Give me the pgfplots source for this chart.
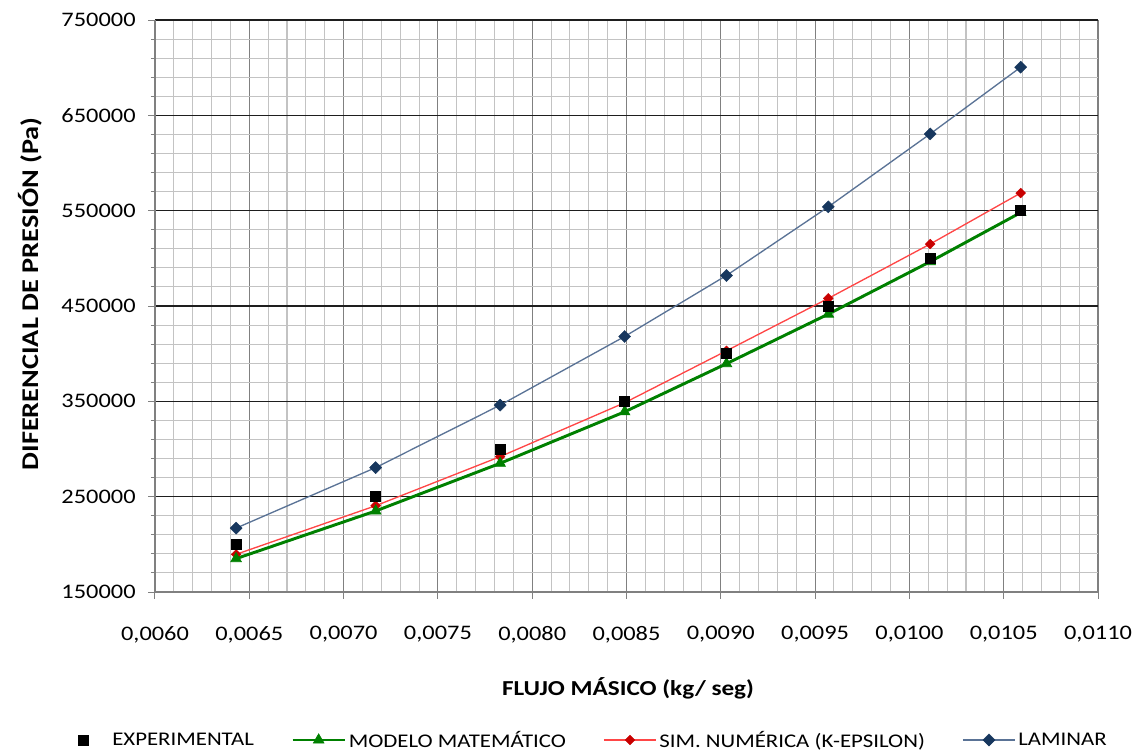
\documentclass[border=0pt]{standalone}
\usepackage{fontspec}
\setmainfont{Carlito}[FakeStretch=1.18]
\usepackage{pgfplots}
\pgfplotsset{compat=1.18}
\definecolor{majx}{RGB}{128,128,128}
\definecolor{majy}{RGB}{30,30,30}
\definecolor{mingrid}{RGB}{195,195,195}
\definecolor{modgreen}{RGB}{0,128,0}
\definecolor{simline}{RGB}{255,70,70}
\definecolor{simmark}{RGB}{200,0,0}
\definecolor{lamline}{RGB}{90,115,150}
\definecolor{lammark}{RGB}{23,55,94}
\begin{document}
\begin{tikzpicture}
\begin{axis}[
  scale only axis, width=707.25pt, height=429pt,
  xmin=0.006, xmax=0.011, ymin=150000, ymax=750000,
  xtick={0.006,0.0065,0.007,0.0075,0.008,0.0085,0.009,0.0095,0.01,0.0105,0.011},
  ytick={150000,250000,350000,450000,550000,650000,750000},
  minor x tick num=4, minor y tick num=4,
  grid=both,
  major x grid style={majx, line width=0.8pt},
  major y grid style={majy, line width=0.8pt},
  minor grid style={mingrid, line width=0.8pt},
  axis x line*=bottom, axis y line*=left,
  axis line style={majx, line width=0.8pt},
  tick align=outside,
  major tick length=5pt, minor tick length=3pt,
  tick style={majx, line width=0.75pt},
  minor x tick style={draw=none},
  scaled x ticks=false, scaled y ticks=false,
  /pgf/number format/assume math mode=true,
  x tick label style={/pgf/number format/fixed, /pgf/number format/fixed zerofill,
     /pgf/number format/precision=4, /pgf/number format/use comma,
     font=\fontsize{15.5}{18}\selectfont, anchor=north, yshift=-17pt},
  y tick label style={/pgf/number format/fixed, /pgf/number format/1000 sep={},
     font=\fontsize{15.5}{18}\selectfont, anchor=east, xshift=-6pt},
  xlabel={FLUJO MÁSICO (kg/ seg)},
  ylabel={DIFERENCIAL DE PRESIÓN (Pa)},
  xlabel style={at={(axis description cs:0.5016,-0.1678)}, anchor=center, font=\bfseries\fontsize{16}{19}\selectfont},
  ylabel style={at={(axis description cs:-0.1326,0.521)}, anchor=center, rotate=0, font=\bfseries\fontsize{18}{20}\selectfont},
  legend columns=4,
  legend style={at={(axis description cs:0.4544,-0.2587)}, anchor=center, draw=none, fill=none,
     font=\fontsize{14.5}{17}\selectfont,
     /tikz/every even column/.append style={column sep=26pt}},
  legend image code/.code={\draw[mark repeat=2,mark phase=2] plot coordinates {(0pt,0pt) (19.5pt,0pt) (39pt,0pt)};},
]
\addlegendimage{mark=square*, mark size=3.8pt, mark options={draw=black, fill=black},
  legend image code/.code={\path[draw=none, mark repeat=2,mark phase=2] plot coordinates {(0pt,0pt) (19.5pt,0pt) (39pt,0pt)};}}
\addlegendentry{EXPERIMENTAL}
\addlegendimage{modgreen, line width=2.2pt, mark=triangle*, mark size=4.6pt, mark options={fill=modgreen, draw=modgreen, line width=0.5pt}}
\addlegendentry{MODELO MATEMÁTICO}
\addlegendimage{simline, line width=1pt, mark=square*, mark size=2.6pt, mark options={rotate=45, fill=simmark, draw=simmark, line width=0.3pt}}
\addlegendentry{SIM. NUMÉRICA (K-EPSILON)}
\addlegendimage{lamline, line width=1pt, mark=square*, mark size=3.2pt, mark options={rotate=45, fill=lammark, draw=lammark, line width=0.3pt}}
\addlegendentry{LAMINAR}

% LAMINAR
\addplot[forget plot, lamline, line width=1pt, mark=square*, mark size=3.2pt, mark options={rotate=45, fill=lammark, draw=lammark, line width=0.3pt}]
 coordinates {(0.00643,217000) (0.00717,280500) (0.00783,346000) (0.00849,418000) (0.00903,482000) (0.00957,554000) (0.01011,630500) (0.01059,700500)};
% SIM NUMERICA
\addplot[forget plot, simline, line width=1pt, mark=square*, mark size=2.6pt, mark options={rotate=45, fill=simmark, draw=simmark, line width=0.3pt}]
 coordinates {(0.00643,189500) (0.00717,240500) (0.00783,292000) (0.00849,348500) (0.00903,403000) (0.00957,458000) (0.01011,515000) (0.01059,568500)};
% MODELO MATEMATICO
\addplot[forget plot, modgreen, line width=2.2pt, mark=triangle*, mark size=4.6pt, mark options={fill=modgreen, draw=modgreen, line width=0.5pt}]
 coordinates {(0.00643,185000) (0.00717,235000) (0.00783,285000) (0.00849,339000) (0.00903,389500) (0.00957,441500) (0.01011,496500) (0.01059,548000)};
% EXPERIMENTAL
\addplot[forget plot, draw=none, mark=square*, mark size=3.8pt, mark options={draw=black, fill=black}]
 coordinates {(0.00643,200000) (0.00717,250000) (0.00783,300000) (0.00849,350000) (0.00903,400000) (0.00957,450000) (0.01011,500000) (0.01059,550000)};
\end{axis}
\pgfresetboundingbox
\path[use as bounding box] (-116.25pt,-121.5pt) rectangle (739.5pt,444pt);
\end{tikzpicture}
\end{document}
